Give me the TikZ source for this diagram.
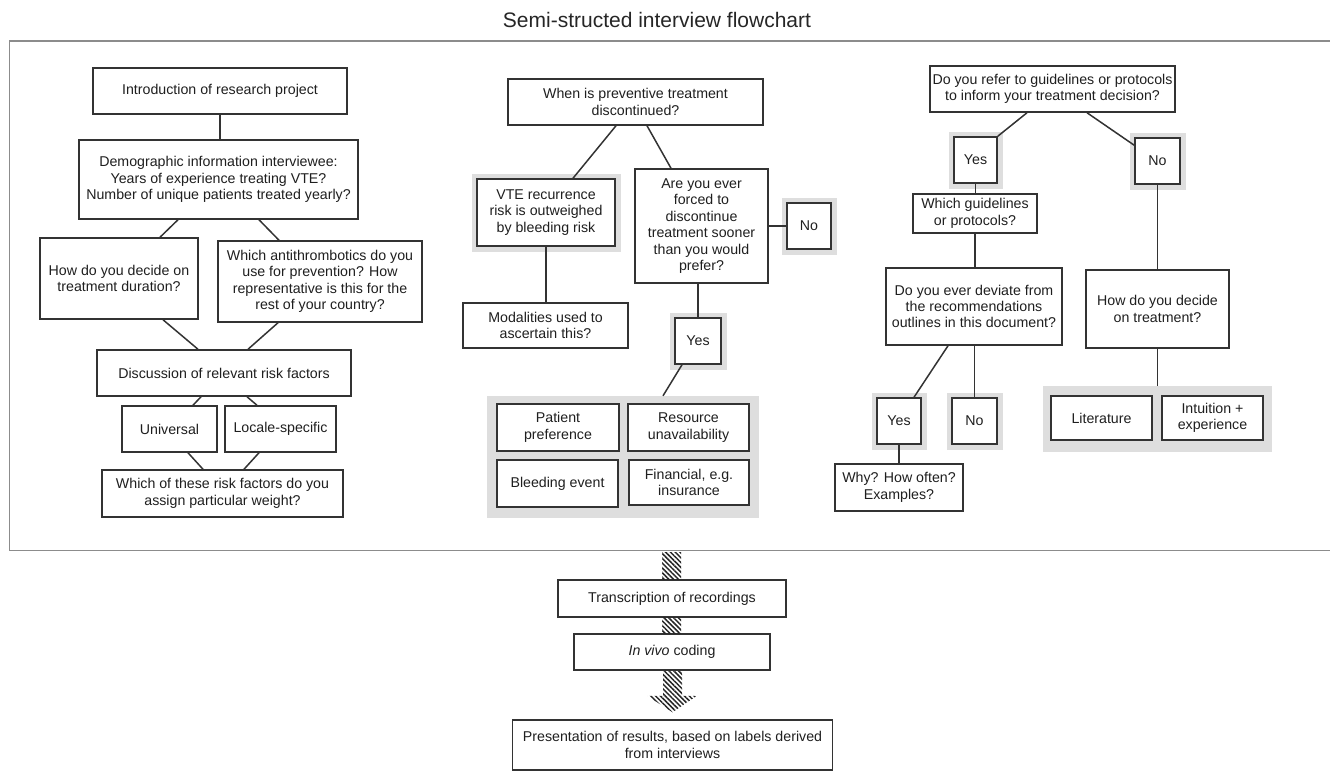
\documentclass[tikz,border=0pt]{standalone}
\usepackage{fontspec}
\setmainfont{Liberation Sans}
\usetikzlibrary{calc,patterns.meta}
\tikzset{
	box/.style={draw=black!80, line width=1.5pt, fill=white, text=black!88, align=center, inner sep=0.5pt, font=\fontsize{14.2}{16.4}\selectfont},
	halo/.style={preaction={draw=black!13, line width=11pt}},
	panel/.style={fill=black!13, inner sep=0pt},
	link/.style={draw=black!80, line width=1.5pt},
	frame/.style={draw=black!45, line width=1.6pt},
	hatch/.style={pattern={Lines[angle=-45, distance=3.4pt, line width=1.5pt]}, pattern color=black!85},
}

\begin{document}
\begin{tikzpicture}[x=1pt,y=-1pt]
		%%%%% START %%%%%
		\useasboundingbox (0,0) rectangle (1330,776);
		
		\node[font=\fontsize{21}{24}\selectfont, text=black!85] (title) at (657,20) {Semi-structed interview flowchart};
		\draw[frame] (1330,41) -- (9.5,41) -- (9.5,550.5) -- (1330,550.5);
		
		% left column
		\node[box, minimum width=254, minimum height=46] (intro) at (220,91) {Introduction of research project};
		\node[box, minimum width=279, minimum height=79] (demo) at (218.5,179.5) {Demographic information interviewee:\\Years of experience treating VTE?\\Number of unique patients treated yearly?};
		\node[box, minimum width=158, minimum height=81] (dur) at (119,278.5) {How do you decide on\\treatment duration?};
		\node[box, minimum width=204, minimum height=81] (anti) at (320,281.5) {Which antithrombotics do you\\use for prevention? How\\representative is this for the\\rest of your country?};
		\node[box, minimum width=254, minimum height=46] (disc) at (224,373) {Discussion of relevant risk factors};
		\node[box, minimum width=95, minimum height=46] (univ) at (169.5,429) {Universal};
		\node[box, minimum width=111, minimum height=46] (locale) at (280.5,429) {Locale-specific};
		\node[box, minimum width=241, minimum height=47] (weight) at (222.5,493.5) {Which of these risk factors do you\\assign particular weight?};
		
		\draw[link] (intro.south) -- (intro.south |- demo.north);
		\draw[link] ([xshift=-40.5]demo.south) -- ([xshift=41]dur.north);
		\draw[link] ([xshift=40.5]demo.south) -- ([xshift=-41]anti.north);
		\draw[link] ([xshift=44]dur.south) -- ([xshift=-26]disc.north);
		\draw[link] ([xshift=-42]anti.south) -- ([xshift=24]disc.north);
		\draw[link] ([xshift=-23]disc.south) -- ([xshift=23.5]univ.north);
		\draw[link] ([xshift=23]disc.south) -- ([xshift=-23.5]locale.north);
		\draw[link] ([xshift=18.5]univ.south) -- ([xshift=-19.5]weight.north);
		\draw[link] ([xshift=-21.5]locale.south) -- ([xshift=21.5]weight.north);
		
		% middle column
		\node[box, minimum width=255, minimum height=46] (when) at (635.5,102) {When is preventive treatment\\discontinued?};
		\node[box, halo, minimum width=138, minimum height=67] (vte) at (546,212.5) {VTE recurrence\\risk is outweighed\\by bleeding risk};
		\node[box, minimum width=133, minimum height=114] (force) at (701.5,226) {Are you ever\\forced to\\discontinue\\treatment sooner\\than you would\\prefer?};
		\node[box, halo, minimum width=44, minimum height=46] (no1) at (809,226) {No};
		\node[box, minimum width=165, minimum height=45] (modal) at (545.5,325.5) {Modalities used to\\ascertain this?};
		\node[box, halo, minimum width=46, minimum height=46] (yes1) at (698,341) {Yes};
		\node[panel, minimum width=272, minimum height=122] (grp1) at (623,457) {};
		\node[box, minimum width=122, minimum height=47] (pat) at (558,427.5) {Patient\\preference};
		\node[box, minimum width=121, minimum height=47] (res) at (688.5,427.5) {Resource\\unavailability};
		\node[box, minimum width=121, minimum height=47] (bleed) at (557.5,483.5) {Bleeding event};
		\node[box, minimum width=120, minimum height=45] (fin) at (689,482.5) {Financial, e.g.\\insurance};
		
		\draw[link] ([xshift=-19.5]when.south) -- ([xshift=27]vte.north);
		\draw[link] ([xshift=11.5]when.south) -- ([xshift=-30.5]force.north);
		\draw[link] (force.east) -- (no1.west);
		\draw[link] (vte.south) -- (vte.south |- modal.north);
		\draw[link] (yes1.north |- force.south) -- (yes1.north);
		\draw[link] ([xshift=-16]yes1.south) -- ([xshift=40]grp1.north);
		
		% right column
		\node[box, minimum width=245, minimum height=46] (refer) at (1052.5,89) {Do you refer to guidelines or protocols\\to inform your treatment decision?};
		\node[box, halo, minimum width=43, minimum height=46] (yes2) at (975.5,160) {Yes};
		\node[box, halo, minimum width=45, minimum height=46] (no2) at (1157.5,161) {No};
		\node[box, minimum width=124, minimum height=39] (which) at (975,213.5) {Which guidelines\\or protocols?};
		\node[box, minimum width=176, minimum height=77] (dev) at (974,306.5) {Do you ever deviate from\\the recommendations\\outlines in this document?};
		\node[box, minimum width=143, minimum height=78] (how) at (1157.5,309) {How do you decide\\on treatment?};
		\node[box, halo, minimum width=44, minimum height=46] (yes3) at (899,421) {Yes};
		\node[box, halo, minimum width=45, minimum height=46] (no3) at (974.5,421) {No};
		\node[box, minimum width=128, minimum height=47] (why) at (899,487.5) {Why? How often?\\Examples?};
		\node[panel, minimum width=229, minimum height=66] (grp2) at (1157.5,419) {};
		\node[box, minimum width=101, minimum height=44] (lit) at (1101.5,418) {Literature};
		\node[box, minimum width=101, minimum height=44] (intu) at (1212.5,418) {Intuition +\\experience};
		
		\draw[link] ([xshift=-25.5]refer.south) -- (yes2.north east);
		\draw[link] ([xshift=34.5]refer.south) -- ([yshift=-8]no2.north west);
		\draw[link] (yes2.south) -- (yes2.south |- which.north);
		\draw[link] (which.south) -- (which.south |- dev.north);
		\draw[link] (no2.south) -- (no2.south |- how.north);
		\draw[link] ([xshift=-26]dev.south) -- ([xshift=15]yes3.north);
		\draw[link] (no3.north |- dev.south) -- (no3.north);
		\draw[link] (yes3.south) -- (why.north);
		\draw[link] (how.south) -- (how.south |- grp2.north);
		
		% analysis steps
		\coordinate (fbot) at (672,552);
		\node[box, minimum width=228, minimum height=37] (trans) at (672,598.5) {Transcription of recordings};
		\node[box, minimum width=196, minimum height=36] (invivo) at (672,652) {\textit{In vivo} coding};
		\node[box, minimum width=320, minimum height=50] (pres) at (672.5,745) {Presentation of results, based on labels derived\\from interviews};
		
		\fill[hatch] ([xshift=-10]fbot) rectangle ([xshift=9]trans.north);
		\fill[hatch] ([xshift=-10]trans.south) rectangle ([xshift=9]invivo.north);
		\fill[hatch] ([xshift=-9]invivo.south) -- ([xshift=10]invivo.south) -- ([xshift=10,yshift=-25]invivo.south) -- ([xshift=25,yshift=-25]invivo.south) -- ([yshift=7]pres.north) -- ([xshift=-25,yshift=-25]invivo.south) -- ([xshift=-9,yshift=-25]invivo.south) -- cycle;
		
		%%%%% END %%%%%
	\end{tikzpicture}
\end{document}
